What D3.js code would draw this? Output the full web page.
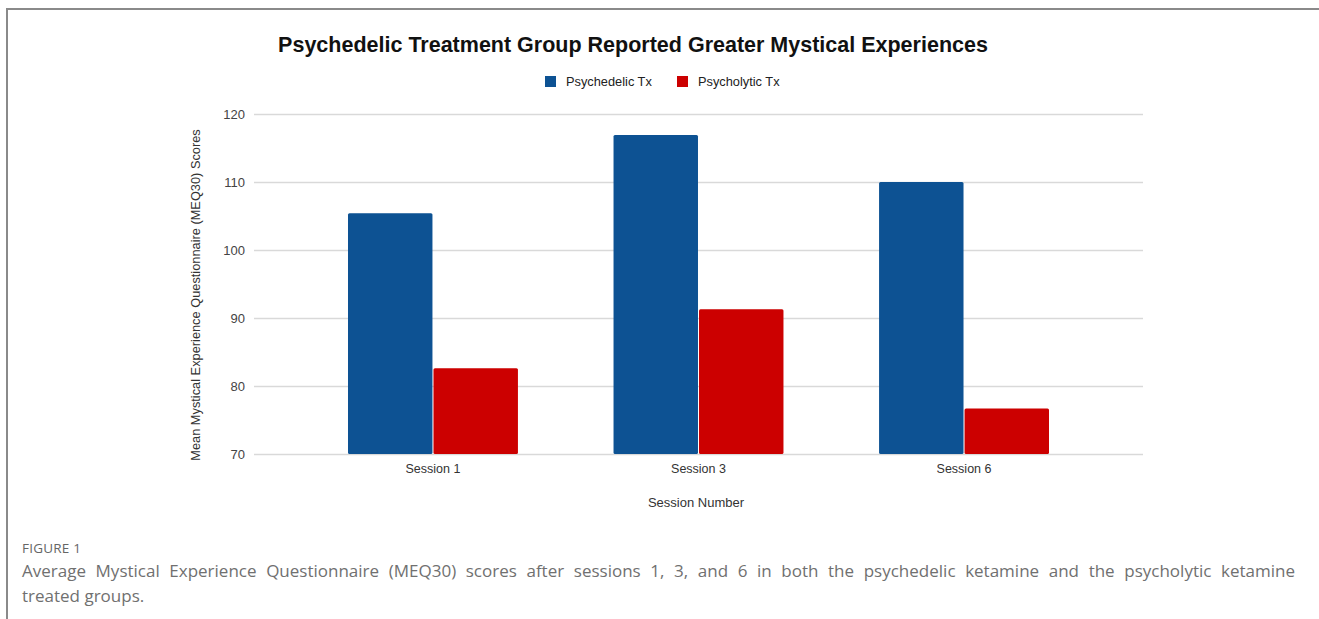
<!DOCTYPE html>
<html>
<head>
<meta charset="utf-8">
<script src="https://cdn.jsdelivr.net/npm/d3@7"></script>
<style>
  html, body { margin: 0; padding: 0; background: #fff; }
  #frame {
    position: absolute; left: 6px; top: 8px; width: 1313px; height: 611px;
    border-left: 2px solid #8a8a8a; border-top: 2px solid #8a8a8a; box-sizing: border-box;
  }
  .caption-label {
    position: absolute; left: 22px; top: 539px;
    font: 13.5px "Open Sans", sans-serif; color: #666; letter-spacing: 0.2px;
  }
  .caption {
    position: absolute; left: 22px; top: 558px; width: 1273px;
    font: 17px "Open Sans", sans-serif; color: #707070; line-height: 25px;
  }
  .caption .l1 { text-align: justify; text-align-last: justify; white-space: nowrap; }
</style>
</head>
<body>
<div id="frame"></div>
<svg id="chart" width="1319" height="530" style="position:absolute;left:0;top:0"></svg>
<div class="caption-label">FIGURE 1</div>
<div class="caption">
  <div class="l1">Average Mystical Experience Questionnaire (MEQ30) scores after sessions 1, 3, and 6 in both the psychedelic ketamine and the psycholytic ketamine</div>
  <div>treated groups.</div>
</div>
<script>
const sessions = ["Session 1", "Session 3", "Session 6"];
const seriesNames = ["Psychedelic Tx", "Psycholytic Tx"];
const seriesColors = ["#0d5293", "#cc0000"];
const psychedelic = [105.4, 116.9, 110.0];
const psycholytic = [82.6, 91.3, 76.7];
const yTicks = [70, 80, 90, 100, 110, 120];

(function () {
  const values = [psychedelic, psycholytic];
  const svg = d3.select("#chart");
  const left = 254, right = 1143, top = 114, bottom = 454;
  const font = "'Liberation Sans', Arial, sans-serif";

  const x = d3.scaleBand().domain(sessions).range([left, right])
    .paddingInner(0.36).paddingOuter(0.354);
  const x1 = d3.scaleBand().domain(seriesNames).range([0, x.bandwidth()]).paddingInner(0.012);
  const y = d3.scaleLinear().domain([70, 120]).range([bottom, top]);

  // title
  svg.append("text").attr("x", 633).attr("y", 52).attr("text-anchor", "middle")
    .style("font", `bold 21.5px ${font}`).attr("fill", "#111")
    .text("Psychedelic Treatment Group Reported Greater Mystical Experiences");

  // legend
  const lx = [545, 677];
  seriesNames.forEach((s, i) => {
    svg.append("rect").attr("x", lx[i]).attr("y", 76).attr("width", 11).attr("height", 11)
      .attr("fill", seriesColors[i]);
    svg.append("text").attr("x", lx[i] + 21).attr("y", 86)
      .style("font", `12.8px ${font}`).attr("fill", "#222").text(s);
  });

  // gridlines + y tick labels
  const yAxis = d3.axisLeft(y).tickValues(yTicks).tickSize(-(right - left)).tickPadding(9);
  const gy = svg.append("g").attr("transform", `translate(${left},0)`).call(yAxis);
  gy.select(".domain").remove();
  gy.selectAll(".tick line").attr("stroke", "#d9d9d9").attr("stroke-width", 1.5);
  gy.selectAll(".tick text").style("font", `13px ${font}`).attr("fill", "#444");

  // bars
  const groups = svg.append("g").selectAll("g").data(sessions).join("g")
    .attr("transform", d => `translate(${x(d)},0)`);
  groups.selectAll("rect")
    .data((d, i) => seriesNames.map((s, k) => ({ s, k, v: values[k][i] })))
    .join("rect")
    .attr("x", d => x1(d.s)).attr("width", x1.bandwidth())
    .attr("y", d => y(d.v)).attr("height", d => y(70) - y(d.v))
    .attr("rx", 1.5)
    .attr("fill", d => seriesColors[d.k]);

  // x axis labels
  const gx = svg.append("g").attr("transform", `translate(0,${bottom})`)
    .call(d3.axisBottom(x).tickSize(0).tickPadding(10));
  gx.select(".domain").remove();
  gx.selectAll(".tick text").style("font", `12.5px ${font}`).attr("fill", "#333");

  svg.append("text").attr("x", 696).attr("y", 507).attr("text-anchor", "middle")
    .style("font", `13px ${font}`).attr("fill", "#333")
    .text("Session Number");

  svg.append("text").attr("transform", "translate(200,295) rotate(-90)").attr("text-anchor", "middle")
    .style("font", `12.8px ${font}`).attr("fill", "#333")
    .text("Mean Mystical Experience Questionnaire (MEQ30) Scores");
})();
</script>
</body>
</html>
